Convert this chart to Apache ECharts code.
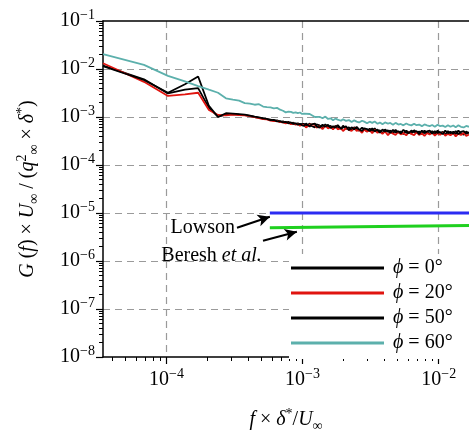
<!DOCTYPE html>
<html>
<head>
<meta charset="utf-8">
<script src="https://cdn.jsdelivr.net/npm/echarts@6/dist/echarts.min.js"></script>
<style>
  html, body { margin: 0; padding: 0; background: #ffffff; }
  #chart { width: 469px; height: 430px; }
</style>
</head>
<body>
<div id="chart"></div>
<script>
// Non-dimensional frequency f·δ*/U∞ of each spectral bin
const freq = [
  3.42e-5, 6.84e-5, 1.026e-4, 1.368e-4, 1.71e-4, 2.052e-4, 2.394e-4, 2.736e-4,
  3.078e-4, 3.42e-4, 3.762e-4, 4.104e-4, 4.446e-4, 4.788e-4, 5.13e-4, 5.472e-4,
  5.814e-4, 6.156e-4, 6.498e-4, 6.84e-4, 7.182e-4, 7.524e-4, 7.866e-4, 8.208e-4,
  8.55e-4, 8.892e-4, 9.234e-4, 9.576e-4, 9.918e-4,
  1.026e-3, 1.0602e-3, 1.1286e-3, 1.1628e-3, 1.2312e-3, 1.2654e-3, 1.3338e-3, 1.4022e-3,
  1.4706e-3, 1.539e-3, 1.6074e-3, 1.6758e-3, 1.7442e-3, 1.8126e-3, 1.9152e-3, 1.9836e-3,
  2.0862e-3, 2.1888e-3, 2.2914e-3, 2.394e-3, 2.4966e-3, 2.5992e-3, 2.736e-3, 2.8386e-3,
  2.9754e-3, 3.1122e-3, 3.249e-3, 3.3858e-3, 3.5568e-3, 3.6936e-3, 3.8646e-3, 4.0356e-3,
  4.2408e-3, 4.4118e-3, 4.617e-3, 4.8222e-3, 5.0616e-3, 5.2668e-3, 5.5062e-3, 5.7798e-3,
  6.0192e-3, 6.2928e-3, 6.6006e-3, 6.8742e-3, 7.182e-3, 7.524e-3, 7.866e-3, 8.208e-3,
  8.5842e-3, 8.9604e-3, 9.3708e-3, 9.8154e-3, 1.026e-2, 1.07046e-2, 1.11834e-2, 1.16964e-2,
  1.22094e-2, 1.27908e-2, 1.3338e-2, 1.39536e-2, 1.45692e-2, 1.52532e-2, 1.59372e-2, 1.66896e-2
];

// Normalised spectra G(f)·U∞/(q∞²·δ*) for each azimuth φ
const phi0 = [
  1.18e-2, 6.1e-3, 3.1e-3, 3.7e-3, 4.0e-3, 1.55e-3, 1.02e-3, 1.12e-3,
  1.15e-3, 1.12e-3, 1.1e-3, 1.05e-3, 1.0e-3, 9.6e-4, 9.3e-4, 9.0e-4,
  8.8e-4, 8.4e-4, 8.5e-4, 7.9e-4, 8.1e-4, 7.6e-4, 7.9e-4, 7.4e-4,
  7.6e-4, 7.1e-4, 7.4e-4, 6.9e-4, 7.2e-4,
  7.2e-4, 6.4e-4, 7.3e-4, 6.5e-4, 6.1e-4, 7.0e-4, 6.7e-4, 6.0e-4,
  7.0e-4, 6.1e-4, 6.6e-4, 5.6e-4, 6.6e-4, 6.0e-4, 5.7e-4, 6.6e-4,
  5.65e-4, 6.1e-4, 5.3e-4, 6.1e-4, 5.6e-4, 5.2e-4, 6.0e-4, 5.55e-4,
  5.0e-4, 5.7e-4, 5.1e-4, 5.8e-4, 4.9e-4, 5.3e-4, 4.6e-4, 5.5e-4,
  4.9e-4, 5.2e-4, 4.6e-4, 5.4e-4, 4.7e-4, 5.0e-4, 4.4e-4, 5.2e-4,
  4.8e-4, 4.55e-4, 5.3e-4, 4.7e-4, 5.0e-4, 4.4e-4, 5.2e-4, 4.8e-4,
  4.5e-4, 5.1e-4, 4.4e-4, 5.2e-4, 4.65e-4, 4.9e-4, 4.3e-4, 5.1e-4,
  4.5e-4, 4.95e-4, 4.4e-4, 5.2e-4, 4.6e-4, 4.3e-4, 4.95e-4, 4.6e-4
];
const phi20 = [
  1.32e-2, 5.4e-3, 2.75e-3, 2.95e-3, 3.2e-3, 1.4e-3, 1.1e-3, 1.08e-3,
  1.12e-3, 1.1e-3, 1.08e-3, 1.04e-3, 9.9e-4, 9.5e-4, 9.0e-4, 8.9e-4,
  8.4e-4, 8.2e-4, 8.3e-4, 7.8e-4, 7.7e-4, 7.4e-4, 7.6e-4, 7.1e-4,
  7.3e-4, 6.9e-4, 7.1e-4, 6.6e-4, 6.9e-4,
  6.8e-4, 6.05e-4, 6.9e-4, 6.3e-4, 7.0e-4, 6.0e-4, 6.4e-4, 5.6e-4,
  6.6e-4, 5.8e-4, 6.2e-4, 5.5e-4, 6.4e-4, 5.55e-4, 5.85e-4, 5.1e-4,
  5.9e-4, 5.4e-4, 5.1e-4, 5.9e-4, 5.15e-4, 5.4e-4, 4.7e-4, 5.5e-4,
  4.95e-4, 5.3e-4, 4.6e-4, 5.4e-4, 4.7e-4, 4.95e-4, 4.45e-4, 5.0e-4,
  4.2e-4, 4.8e-4, 4.5e-4, 4.25e-4, 4.95e-4, 4.35e-4, 4.65e-4, 4.15e-4,
  4.8e-4, 4.45e-4, 4.2e-4, 4.85e-4, 4.25e-4, 4.55e-4, 4.05e-4, 4.65e-4,
  4.3e-4, 4.75e-4, 4.1e-4, 4.6e-4, 4.25e-4, 4.8e-4, 4.05e-4, 4.45e-4,
  4.15e-4, 4.65e-4, 3.95e-4, 4.5e-4, 4.2e-4, 4.7e-4, 4.05e-4, 4.3e-4
];
const phi50 = [
  1.15e-2, 5.9e-3, 3.2e-3, 4.8e-3, 7.0e-3, 1.7e-3, 1.0e-3, 1.2e-3,
  1.18e-3, 1.15e-3, 1.12e-3, 1.07e-3, 1.02e-3, 9.8e-4, 9.4e-4, 9.1e-4,
  8.6e-4, 8.7e-4, 8.1e-4, 8.2e-4, 7.7e-4, 7.9e-4, 7.4e-4, 7.7e-4,
  7.2e-4, 7.4e-4, 6.9e-4, 7.2e-4, 6.7e-4,
  6.55e-4, 7.3e-4, 6.3e-4, 7.0e-4, 7.3e-4, 6.4e-4, 6.0e-4, 6.9e-4,
  6.3e-4, 6.9e-4, 5.9e-4, 6.4e-4, 6.0e-4, 6.8e-4, 5.7e-4, 6.05e-4,
  6.4e-4, 5.3e-4, 6.1e-4, 5.5e-4, 6.2e-4, 5.5e-4, 5.1e-4, 5.8e-4,
  5.6e-4, 5.1e-4, 5.8e-4, 5.0e-4, 5.5e-4, 4.7e-4, 5.5e-4, 5.0e-4,
  5.3e-4, 4.65e-4, 5.4e-4, 4.8e-4, 5.05e-4, 4.55e-4, 5.4e-4, 4.75e-4,
  4.6e-4, 5.2e-4, 4.85e-4, 5.1e-4, 4.4e-4, 5.2e-4, 4.6e-4, 5.0e-4,
  5.2e-4, 4.5e-4, 5.05e-4, 4.65e-4, 4.85e-4, 4.4e-4, 5.2e-4, 4.6e-4,
  4.95e-4, 4.5e-4, 5.1e-4, 4.4e-4, 4.9e-4, 5.1e-4, 4.5e-4, 4.8e-4
];
const phi60 = [
  2.05e-2, 1.22e-2, 7.2e-3, 5.5e-3, 4.4e-3, 3.7e-3, 3.2e-3, 2.45e-3,
  2.3e-3, 2.2e-3, 1.95e-3, 1.9e-3, 1.8e-3, 1.85e-3, 1.65e-3, 1.6e-3,
  1.58e-3, 1.52e-3, 1.55e-3, 1.42e-3, 1.35e-3, 1.25e-3, 1.3e-3, 1.28e-3,
  1.22e-3, 1.25e-3, 1.2e-3, 1.24e-3, 1.16e-3,
  1.18e-3, 1.1e-3, 1.155e-3, 1.07e-3, 1.0e-3, 1.07e-3, 1.01e-3, 9.4e-4,
  1.02e-3, 9.1e-4, 9.4e-4, 8.55e-4, 9.25e-4, 8.8e-4, 8.35e-4, 9.0e-4,
  8.3e-4, 8.65e-4, 7.9e-4, 8.5e-4, 8.0e-4, 7.7e-4, 8.35e-4, 8.0e-4,
  7.4e-4, 8.0e-4, 7.55e-4, 8.05e-4, 7.25e-4, 7.65e-4, 7.1e-4, 7.7e-4,
  7.3e-4, 7.5e-4, 6.9e-4, 7.55e-4, 6.95e-4, 7.15e-4, 6.7e-4, 7.3e-4,
  6.9e-4, 6.7e-4, 7.25e-4, 6.75e-4, 6.95e-4, 6.45e-4, 7.0e-4, 6.7e-4,
  6.45e-4, 6.8e-4, 6.25e-4, 6.9e-4, 6.45e-4, 6.6e-4, 6.2e-4, 6.75e-4,
  6.25e-4, 6.65e-4, 6.15e-4, 6.7e-4, 6.25e-4, 6.05e-4, 6.5e-4, 6.25e-4
];

// Reference levels
const lowsonFreq = [5.75e-4, 1.67e-2];
const lowsonLevel = [1.0e-5, 1.0e-5];
const bereshFreq = [5.75e-4, 1.67e-2];
const bereshLevel = [4.9e-6, 5.5e-6];

// Axis ranges and decade tick exponents
const freqRange = [3.42e-5, 1.67e-2];
const levelRange = [1e-8, 1e-1];
const xDecades = [-4, -3, -2];
const yDecades = [-8, -7, -6, -5, -4, -3, -2, -1];
const yGridDecades = [-7, -6, -5, -4, -3, -2];

const seriesNames = ['ϕ = 0°', 'ϕ = 20°', 'ϕ = 50°', 'ϕ = 60°'];
const seriesColors = ['#000000', '#e0140f', '#000000', '#5cb0ac'];

const lg = Math.log10;
const SERIF = 'Liberation Serif, Times New Roman, serif';

// log-log plotting: both axes work on log10 of the values
const toPoints = (xs, ys) => xs.map((x, i) => [lg(x), lg(ys[i])]);

function minorTicks(lo, hi) {
  const out = [];
  for (let n = Math.floor(lo) - 1; n <= Math.ceil(hi); n++) {
    for (let k = 2; k <= 9; k++) {
      const v = n + lg(k);
      if (v >= lo - 1e-9 && v <= hi + 1e-9) out.push(v);
    }
  }
  return out;
}

const xMin = lg(freqRange[0]), xMax = lg(freqRange[1]);
const yMin = lg(levelRange[0]), yMax = lg(levelRange[1]);

const mathRich = {
  r: { fontFamily: SERIF, fontSize: 20, color: '#000' },
  i: { fontFamily: SERIF, fontSize: 20, fontStyle: 'italic', color: '#000' },
  sup: { fontFamily: SERIF, fontSize: 14, color: '#000', padding: [0, 0, 12, 0] },
  sub: { fontFamily: SERIF, fontSize: 14, color: '#000', padding: [12, 0, 0, 0] }
};
const powRich = {
  b: { fontFamily: SERIF, fontSize: 20, color: '#000' },
  s: { fontFamily: SERIF, fontSize: 14, color: '#000', padding: [0, 0, 12, 0] }
};
const powLabel = v => '{b|10}{s|−' + Math.round(-v) + '}';

const blackLine = { color: '#000', width: 1.5 };

// Annotation texts, anchored (right edge, middle) at a data point
const notes = [
  { text: 'Lowson', at: [3.19e-4, 4.94e-6] },
  { text: 'Beresh {i|et al.}', at: [5.02e-4, 1.29e-6] }
];

const option = {
  animation: false,
  backgroundColor: '#ffffff',
  grid: { left: 103, top: 21, right: 0, bottom: 73, outerBoundsMode: 'none', containLabel: false },
  xAxis: [
    { // minor ticks + bottom spine
      type: 'value', position: 'bottom', min: xMin, max: xMax,
      axisLine: { show: true, lineStyle: blackLine },
      axisTick: { show: true, inside: false, length: 4, lineStyle: { color: '#000', width: 1 },
                  customValues: minorTicks(xMin, xMax) },
      axisLabel: { show: false }, splitLine: { show: false }
    },
    { // decades: labels, long ticks, dashed grid
      type: 'value', position: 'bottom', min: xMin, max: xMax,
      axisLine: { show: false },
      axisTick: { show: true, inside: false, length: 7, lineStyle: { color: '#000', width: 1.2 },
                  customValues: xDecades },
      axisLabel: { show: true, margin: 10, customValues: xDecades, formatter: powLabel, rich: powRich },
      splitLine: { show: true, lineStyle: { color: '#9a9a9a', width: 1.2, type: [7, 5] } },
      name: '{i|f} × {i|δ}{sup|*}/{i|U}{sub|∞}',
      nameLocation: 'middle', nameGap: 50,
      nameTextStyle: { fontFamily: SERIF, fontSize: 20, color: '#000', rich: mathRich }
    },
    { // top spine
      type: 'value', position: 'top', min: xMin, max: xMax,
      axisLine: { show: true, lineStyle: blackLine },
      axisTick: { show: false }, axisLabel: { show: false }, splitLine: { show: false }
    }
  ],
  yAxis: [
    { // minor ticks + left spine
      type: 'value', position: 'left', min: yMin, max: yMax,
      axisLine: { show: true, lineStyle: blackLine },
      axisTick: { show: true, inside: false, length: 4, lineStyle: { color: '#000', width: 1 },
                  customValues: minorTicks(yMin, yMax) },
      axisLabel: { show: false }, splitLine: { show: false }
    },
    { // decades: labels and long ticks
      type: 'value', position: 'left', min: yMin, max: yMax,
      axisLine: { show: false },
      axisTick: { show: true, inside: false, length: 7, lineStyle: { color: '#000', width: 1.2 },
                  customValues: yDecades },
      axisLabel: { show: true, margin: 8, customValues: yDecades, formatter: powLabel, rich: powRich },
      splitLine: { show: false },
      name: '{i|G} ({i|f}) × {i|U}{sub|∞} / ({i|q}{sup|2}{sub|∞} × {i|δ}{sup|*})',
      nameLocation: 'middle', nameRotate: 90, nameGap: 62,
      nameTextStyle: { fontFamily: SERIF, fontSize: 20, color: '#000', rich: mathRich }
    },
    { // dashed grid at inner decades
      type: 'value', position: 'left', min: yMin, max: yMax,
      axisLine: { show: false },
      axisTick: { show: false, customValues: yGridDecades },
      axisLabel: { show: false },
      splitLine: { show: true, lineStyle: { color: '#9a9a9a', width: 1.2, type: [7, 5] } }
    }
  ],
  legend: {
    data: seriesNames,
    orient: 'vertical', left: 289, top: 254,
    backgroundColor: '#ffffff', padding: [4, 20, 6, 2],
    icon: 'rect', itemWidth: 93, itemHeight: 3, itemGap: 5,
    formatter: name => name.replace('ϕ', '{i|ϕ}'),
    textStyle: {
      fontFamily: SERIF, fontSize: 20, color: '#000', lineHeight: 20, padding: [0, 0, 0, 4],
      rich: { i: { fontFamily: SERIF, fontSize: 20, fontStyle: 'italic', color: '#000' } }
    }
  },
  series: [
    ...seriesNames.map((name, i) => ({
      name, type: 'line', xAxisIndex: 0, yAxisIndex: 0,
      data: toPoints(freq, [phi0, phi20, phi50, phi60][i]),
      showSymbol: false, symbol: 'none', clip: true,
      lineStyle: { color: seriesColors[i], width: 1.8 },
      itemStyle: { color: seriesColors[i] }, z: 3 + i
    })),
    {
      name: 'Lowson', type: 'line', xAxisIndex: 0, yAxisIndex: 0,
      data: toPoints(lowsonFreq, lowsonLevel), showSymbol: false, symbol: 'none',
      lineStyle: { color: '#2b2bf2', width: 3 }, z: 3,
      markLine: {
        silent: true, symbol: ['none', 'arrow'], symbolSize: [9, 12],
        lineStyle: { color: '#000', width: 2, type: 'solid' }, label: { show: false },
        data: [
          [{ coord: [lg(3.30e-4), lg(4.94e-6)] }, { coord: [lg(5.75e-4), lg(8.38e-6)] }],
          [{ coord: [lg(5.12e-4), lg(2.65e-6)] }, { coord: [lg(9.08e-4), lg(4.07e-6)] }]
        ]
      }
    },
    {
      name: 'Beresh et al.', type: 'line', xAxisIndex: 0, yAxisIndex: 0,
      data: toPoints(bereshFreq, bereshLevel), showSymbol: false, symbol: 'none',
      lineStyle: { color: '#1fd01f', width: 3 }, z: 3
    }
  ]
};

const chart = echarts.init(document.getElementById('chart'), null, { renderer: 'canvas' });
chart.setOption(option);

// Place the annotation texts through the chart's own coordinate system
chart.setOption({
  graphic: notes.map(n => {
    const p = chart.convertToPixel({ xAxisIndex: 0, yAxisIndex: 0 }, [lg(n.at[0]), lg(n.at[1])]);
    return {
      type: 'text', x: p[0], y: p[1], z: 10, silent: true,
      style: {
        text: n.text, align: 'right', verticalAlign: 'middle',
        fontFamily: SERIF, fontSize: 20, fill: '#000',
        rich: { i: { fontFamily: SERIF, fontSize: 20, fontStyle: 'italic', fill: '#000' } }
      }
    };
  })
});
</script>
</body>
</html>
